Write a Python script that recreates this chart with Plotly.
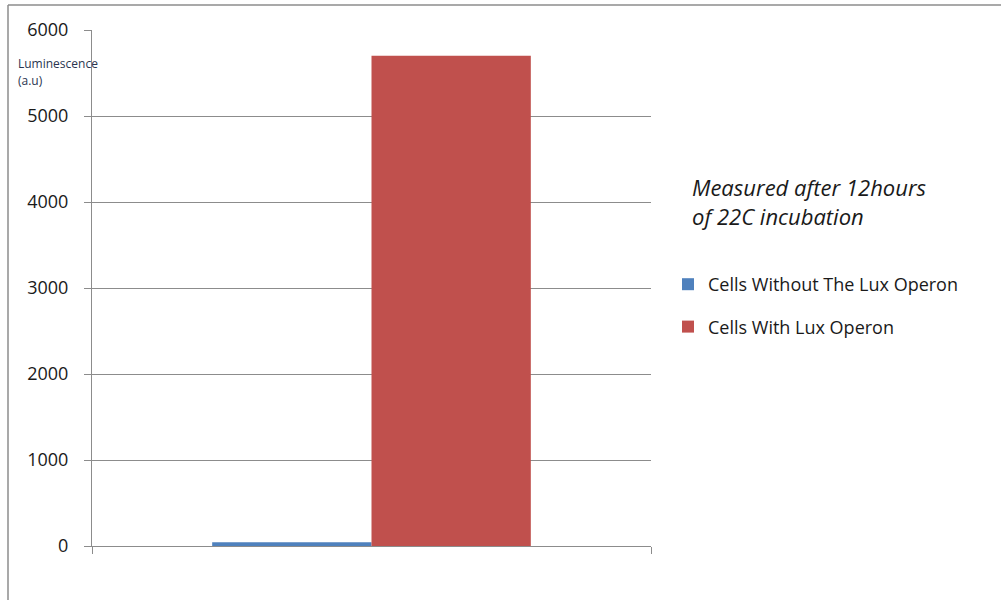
import plotly.graph_objects as go

categories = [""]
series_names = ["Cells Without The Lux Operon", "Cells With Lux Operon"]
values_without = [45]
values_with = [5700]
y_ticks = [0, 1000, 2000, 3000, 4000, 5000, 6000]

colors = ["#4F81BD", "#C0504D"]

fig = go.Figure()
fig.add_trace(go.Bar(x=categories, y=values_without, name=series_names[0],
                     marker=dict(color=colors[0], line=dict(width=0)), legendgroup="a"))
fig.add_trace(go.Bar(x=categories, y=values_with, name=series_names[1],
                     marker=dict(color=colors[1], line=dict(width=0)), legendgroup="b"))

L, R, T, B = 92, 351, 30, 54
W, H = 1002, 600
pw, ph = W - L - R, H - T - B

def px(xp):
    return (xp - L) / pw

def py(yp):
    return (H - B - yp) / ph

font = "Open Sans"

fig.update_layout(
    width=W, height=H,
    margin=dict(l=L, r=R, t=T, b=B, pad=0),
    paper_bgcolor="white", plot_bgcolor="white",
    barmode="group", bargap=0.43, bargroupgap=0,
    font=dict(family=font, color="#1a1a1a"),
    showlegend=True,
    legend=dict(x=px(668), y=py(266), xanchor="left", yanchor="top",
                font=dict(size=18, family=font, color="#1a1a1a"),
                tracegroupgap=16, itemsizing="constant",
                bgcolor="rgba(0,0,0,0)"),
    xaxis=dict(showline=True, linecolor="#8c8c8c", linewidth=1,
               showticklabels=False, ticks="outside", ticklen=7,
               tickcolor="#8c8c8c", tickson="boundaries", showgrid=False,
               zeroline=False, fixedrange=True),
    yaxis=dict(range=[0, 6000], tickvals=y_ticks,
               ticktext=[str(v) for v in y_ticks],
               showline=True, linecolor="#8c8c8c", linewidth=1,
               ticks="outside", ticklen=7, tickcolor="#8c8c8c",
               showgrid=True, gridcolor="#8c8c8c", gridwidth=1,
               zeroline=False, ticklabelstandoff=12,
               tickfont=dict(size=18, family=font, color="#1a1a1a")),
    annotations=[
        dict(text="Luminescence", xref="paper", yref="paper",
             x=px(16), y=py(63), xanchor="left", yanchor="middle", showarrow=False,
             align="left", font=dict(size=12, family=font, color="#2a3550")),
        dict(text="(a.u)", xref="paper", yref="paper",
             x=px(16), y=py(81), xanchor="left", yanchor="middle", showarrow=False,
             align="left", font=dict(size=12, family=font, color="#2a3550")),
        dict(text="<i>Measured after 12hours<br>of 22C incubation</i>",
             xref="paper", yref="paper", x=px(690), y=py(170),
             xanchor="left", yanchor="top", showarrow=False, align="left",
             font=dict(size=22, family=font, color="#1a1a1a")),
    ],
    shapes=[
        dict(type="line", xref="paper", yref="paper", x0=px(8), x1=px(1001),
             y0=py(5), y1=py(5), line=dict(color="#8c8c8c", width=1.5)),
        dict(type="line", xref="paper", yref="paper", x0=px(8), x1=px(8),
             y0=py(5), y1=py(600), line=dict(color="#8c8c8c", width=1.5)),
    ],
)

fig.write_html("out.html")
